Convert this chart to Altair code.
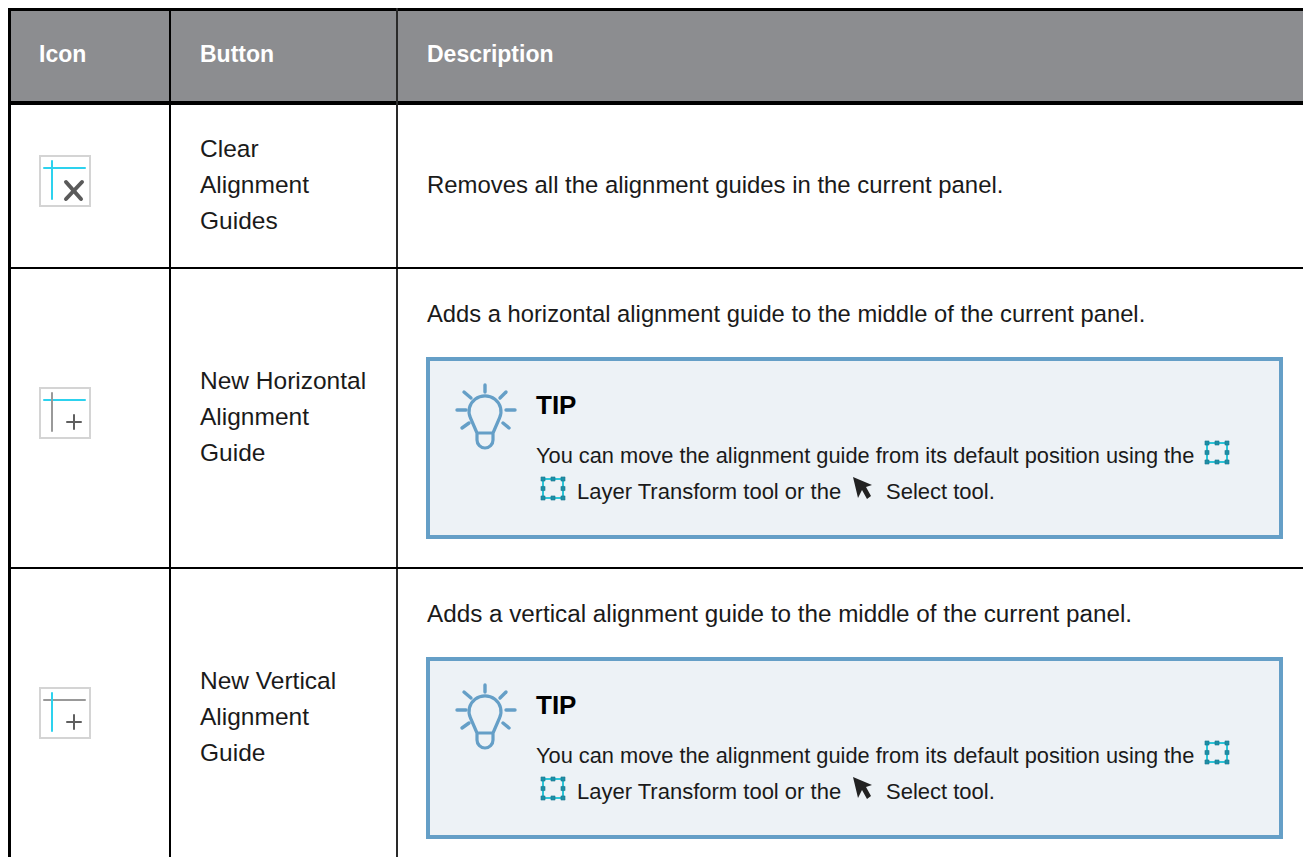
import altair as alt
import pandas as pd

# Column / row geometry of the table
COL_TITLES = ["Icon", "Button", "Description"]
COL_TEXT_X = [39, 200, 427]
BUTTON_LINES = [["Clear", "Alignment", "Guides"],
                ["New Horizontal", "Alignment", "Guide"],
                ["New Vertical", "Alignment", "Guide"]]
BUTTON_BASE = [157, 389, 689]
DESCRIPTIONS = ["Removes all the alignment guides in the current panel.",
                "Adds a horizontal alignment guide to the middle of the current panel.",
                "Adds a vertical alignment guide to the middle of the current panel."]
DESC_BASE = [193, 322, 622]
DESC_SIZE = [23.9, 23.75, 24.25]
TIP_TOP = [357, 657]
TIP_LINE1 = "You can move the alignment guide from its default position using the"
TIP_LINE2A = "Layer Transform tool or the"
TIP_LINE2B = "Select tool."

XMIN, XMAX, YMIN, YMAX = 8, 1303, 8, 857

# filled blocks: x, x2, y, y2, colour
BLOCKS = [
    (11, XMAX, 11, 101, "#8c8d90"),
    (XMIN, 11, YMIN, YMAX, "#000000"),
    (XMIN, XMAX, YMIN, 11, "#000000"),
    (XMIN, XMAX, 101, 105, "#000000"),
    (169, 171, YMIN, YMAX, "#000000"),
    (396, 398, YMIN, YMAX, "#2a2a2a"),
    (XMIN, XMAX, 267, 269, "#000000"),
    (XMIN, XMAX, 567, 569, "#000000"),
]
for t in TIP_TOP:
    BLOCKS += [(426, 1283, t, t + 182, "#659fc7"), (430, 1279, t + 4, t + 178, "#edf2f6")]
for top in [155, 387, 687]:
    BLOCKS += [(39, 91, top, top + 52, "#d4d4d4"), (41, 89, top + 2, top + 50, "#ffffff")]

# icon strokes: x, y, x2, y2, colour, width
SEGMENTS = [
    (44, 168, 85, 168, "#2dd2ee", 2), (52, 161, 52, 199, "#2dd2ee", 2),
    (66, 182, 81, 199, "#5a5a5a", 4), (82, 182, 66, 199, "#5a5a5a", 4),
    (44, 400, 85, 400, "#2dd2ee", 2), (52, 393, 52, 431, "#999999", 2),
    (67, 422, 81, 422, "#5f5f5f", 2), (74, 415, 74, 429, "#5f5f5f", 2),
    (44, 700, 85, 700, "#999999", 2), (52, 693, 52, 731, "#2dd2ee", 2),
    (67, 722, 81, 722, "#5f5f5f", 2), (74, 715, 74, 729, "#5f5f5f", 2),
]
RAYS = [(485, 385, 485, 392), (464, 392, 471, 398), (506, 392, 500, 398),
        (457, 410, 466, 410), (506, 410, 515, 410), (462, 428, 469, 423), (509, 428, 503, 423)]
BOXES = [(1207, 443), (543, 479)]
BOX_W, BOX_H = 20, 19
BULB = "M-8 21L-14.5 6A16 15.5 0 1 1 14.5 6L8 21ZM-8 21L-8 28A8 8 0 0 0 8 28L8 21"
ARROW = "M0 0L5 21L9 13L14 22L18 19L13 10L19 8Z"

for dy in [0, 300]:
    for x0, y0, x1, y1 in RAYS:
        SEGMENTS.append((x0, y0 + dy, x1, y1 + dy, "#659fc7", 3.4))

squares, texts, bold = [], [], []
for dy in [0, 300]:
    for bx, by in BOXES:
        by += dy
        SEGMENTS += [(bx, by, bx + BOX_W, by, "#2cc5d8", 2), (bx, by + BOX_H, bx + BOX_W, by + BOX_H, "#2cc5d8", 2),
                     (bx, by, bx, by + BOX_H, "#2cc5d8", 2), (bx + BOX_W, by, bx + BOX_W, by + BOX_H, "#2cc5d8", 2)]
        for fx in [0, .5, 1]:
            for fy in [0, .5, 1]:
                if not (fx == .5 and fy == .5):
                    squares.append({"x": bx + fx * BOX_W, "y": by + fy * BOX_H})

for title, x in zip(COL_TITLES, COL_TEXT_X):
    bold.append({"t": title, "x": x, "y": 62, "s": 23, "c": "#ffffff"})
for lines, base in zip(BUTTON_LINES, BUTTON_BASE):
    for i, line in enumerate(lines):
        texts.append({"t": line, "x": 200, "y": base + 36 * i, "s": 24.5, "c": "#1a1a1a"})
for d, base, s in zip(DESCRIPTIONS, DESC_BASE, DESC_SIZE):
    texts.append({"t": d, "x": 427, "y": base, "s": s, "c": "#1a1a1a"})
for t in TIP_TOP:
    bold.append({"t": "TIP", "x": 536, "y": t + 57, "s": 26, "c": "#000000"})
    texts.append({"t": TIP_LINE1, "x": 536, "y": t + 106, "s": 21.8, "c": "#1a1a1a"})
    texts.append({"t": TIP_LINE2A, "x": 577, "y": t + 142, "s": 22, "c": "#1a1a1a"})
    texts.append({"t": TIP_LINE2B, "x": 886, "y": t + 142, "s": 22, "c": "#1a1a1a"})

FONT = "Liberation Sans"
X = alt.X("x:Q", scale=alt.Scale(domain=[XMIN, XMAX], range=[0, XMAX - XMIN], nice=False, zero=False, padding=0), axis=None)
Y = alt.Y("y:Q", scale=alt.Scale(domain=[YMIN, YMAX], range=[0, YMAX - YMIN], nice=False, zero=False, padding=0), axis=None)

blocks = pd.DataFrame(BLOCKS, columns=["x", "x2", "y", "y2", "c"])
segs = pd.DataFrame(SEGMENTS, columns=["x", "y", "x2", "y2", "c", "w"])

layers = [
    alt.Chart(blocks).mark_rect(strokeWidth=0).encode(
        x=X, x2="x2:Q", y=Y, y2="y2:Q", color=alt.Color("c:N", scale=None, legend=None), order=alt.Order("index:Q")
    ).transform_window(index="row_number()"),
    alt.Chart(segs).mark_rule(strokeCap="round").encode(
        x=X, x2="x2:Q", y=Y, y2="y2:Q", color=alt.Color("c:N", scale=None, legend=None),
        strokeWidth=alt.StrokeWidth("w:Q", scale=None, legend=None)),
    alt.Chart(pd.DataFrame(squares)).mark_square(size=17, color="#1f8ea6", opacity=1, stroke="#17768c", strokeWidth=0.5).encode(x=X, y=Y),
    alt.Chart(pd.DataFrame({"x": [485, 485], "y": [412, 712]})).mark_point(
        shape=BULB, size=4, stroke="#659fc7", strokeWidth=3.2, fill=None, opacity=1, strokeJoin="round").encode(x=X, y=Y),
    alt.Chart(pd.DataFrame({"x": [853, 853], "y": [477, 777]})).mark_point(
        shape=ARROW, size=4, fill="#222222", filled=True, opacity=1).encode(x=X, y=Y),
    alt.Chart(pd.DataFrame(texts)).mark_text(align="left", baseline="alphabetic", font=FONT).encode(
        x=X, y=Y, text="t:N", size=alt.Size("s:Q", scale=None, legend=None), color=alt.Color("c:N", scale=None, legend=None)),
    alt.Chart(pd.DataFrame(bold)).mark_text(align="left", baseline="alphabetic", font=FONT, fontWeight="bold").encode(
        x=X, y=Y, text="t:N", size=alt.Size("s:Q", scale=None, legend=None), color=alt.Color("c:N", scale=None, legend=None)),
]

chart = alt.layer(*layers).properties(
    width=XMAX - XMIN, height=YMAX - YMIN, padding=0, autosize=alt.AutoSizeParams(type="none"), background="#ffffff"
).configure_view(stroke=None)

chart.save("out.html", embed_options={"renderer": "svg", "actions": False})
